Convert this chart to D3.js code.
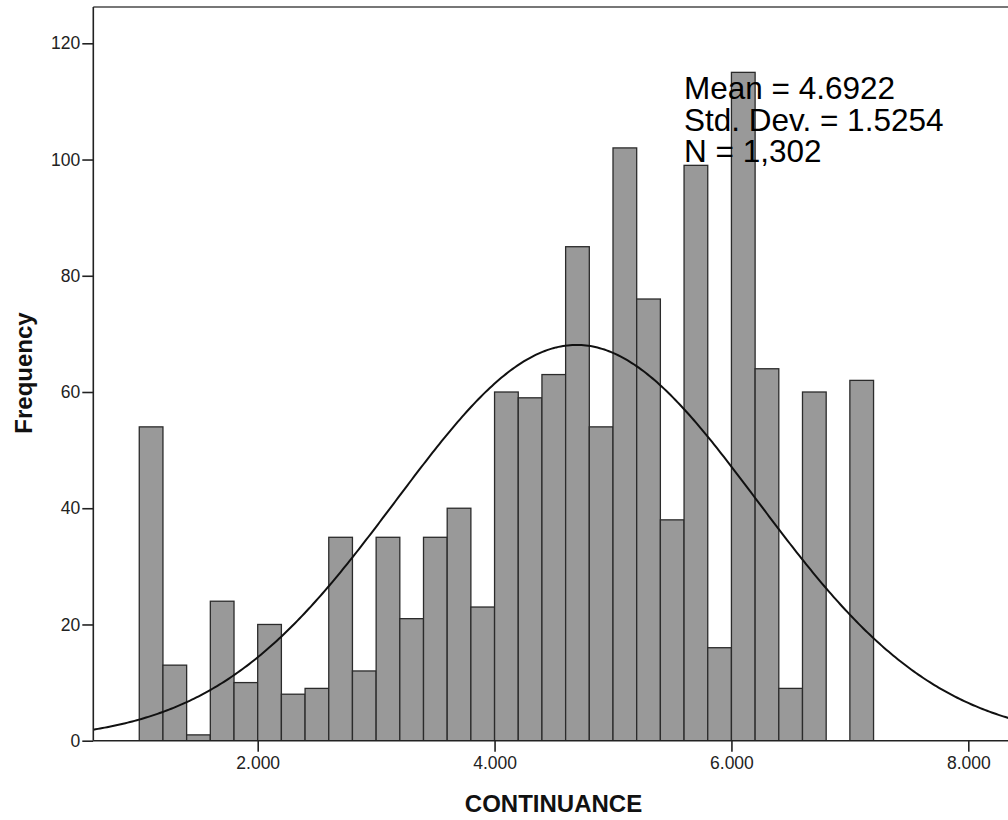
<!DOCTYPE html>
<html>
<head>
<meta charset="utf-8">
<script src="https://cdn.jsdelivr.net/npm/d3@7"></script>
<style>
  html, body { margin: 0; padding: 0; background: #fff; }
  svg { display: block; font-family: "Liberation Sans", Arial, sans-serif; }
</style>
</head>
<body>
<svg id="chart" width="1008" height="820"></svg>
<script>
// Histogram of CONTINUANCE, bins of width 0.2 starting at 1.0
const binStarts = [1.0, 1.2, 1.4, 1.6, 1.8, 2.0, 2.2, 2.4, 2.6, 2.8,
                   3.0, 3.2, 3.4, 3.6, 3.8, 4.0, 4.2, 4.4, 4.6, 4.8,
                   5.0, 5.2, 5.4, 5.6, 5.8, 6.0, 6.2, 6.4, 6.6, 6.8, 7.0];
const frequencies = [54, 13, 1, 24, 10, 20, 8, 9, 35, 12,
                     35, 21, 35, 40, 23, 60, 59, 63, 85, 54,
                     102, 76, 38, 99, 16, 115, 64, 9, 60, 0, 62];
const binWidth = 0.2;
const xTicks = [2, 4, 6, 8];
const yTicks = [0, 20, 40, 60, 80, 100, 120];
const statMean = 4.6922;
const statSD = 1.5254;
const statN = 1302;
const statLines = ["Mean = 4.6922", "Std. Dev. = 1.5254", "N = 1,302"];

(function () {
  const svg = d3.select("#chart");

  // Plot box
  const boxL = 93.3, boxR = 1010, boxT = 7, boxB = 740.7;

  const x = d3.scaleLinear().domain([2, 8]).range([257.7, 968.3]);
  const y = d3.scaleLinear().domain([0, 120]).range([boxB, 43.3]);

  svg.append("defs").append("clipPath").attr("id", "plotClip")
    .append("rect").attr("x", boxL).attr("y", boxT)
    .attr("width", boxR - boxL).attr("height", boxB - boxT);

  const plot = svg.append("g").attr("clip-path", "url(#plotClip)");

  // Bars
  plot.selectAll("rect.bar")
    .data(binStarts.map((s, i) => ({ s, f: frequencies[i] })).filter(d => d.f > 0))
    .join("rect")
    .attr("class", "bar")
    .attr("x", d => x(d.s))
    .attr("width", d => x(d.s + binWidth) - x(d.s))
    .attr("y", d => y(d.f))
    .attr("height", d => y(0) - y(d.f))
    .attr("fill", "#999999")
    .attr("stroke", "#2b2b2b")
    .attr("stroke-width", 1.3);

  // Normal curve scaled to counts
  const scaleFactor = statN * binWidth / (statSD * Math.sqrt(2 * Math.PI));
  const v0 = x.invert(boxL), v1 = x.invert(boxR);
  const curvePts = d3.range(0, 401).map(i => {
    const v = v0 + (v1 - v0) * i / 400;
    const z = (v - statMean) / statSD;
    return [v, scaleFactor * Math.exp(-0.5 * z * z)];
  });
  plot.append("path")
    .datum(curvePts)
    .attr("fill", "none")
    .attr("stroke", "#111")
    .attr("stroke-width", 2)
    .attr("d", d3.line().x(d => x(d[0])).y(d => y(d[1])));

  // Frame: top line
  svg.append("line")
    .attr("x1", boxL).attr("x2", boxR).attr("y1", boxT).attr("y2", boxT)
    .attr("stroke", "#777").attr("stroke-width", 2.2);

  // Y axis
  const yAxis = d3.axisLeft(y).tickValues(yTicks).tickSize(11).tickPadding(2)
    .tickFormat(d3.format("d"));
  const gy = svg.append("g").attr("transform", `translate(${boxL},0)`).call(yAxis);
  gy.select(".domain").remove();
  gy.selectAll(".tick line").attr("stroke", "#222").attr("stroke-width", 1.6);
  gy.selectAll(".tick text").attr("font-size", "17.5px").attr("fill", "#222")
    .attr("font-family", "Liberation Sans, Arial, sans-serif");
  svg.append("line")
    .attr("x1", boxL).attr("x2", boxL).attr("y1", boxT).attr("y2", boxB)
    .attr("stroke", "#222").attr("stroke-width", 1.6);

  // X axis
  const xAxis = d3.axisBottom(x).tickValues(xTicks).tickSize(11).tickPadding(5)
    .tickFormat(d3.format(".3f"));
  const gx = svg.append("g").attr("transform", `translate(0,${boxB})`).call(xAxis);
  gx.select(".domain").remove();
  gx.selectAll(".tick line").attr("stroke", "#222").attr("stroke-width", 1.6);
  gx.selectAll(".tick text").attr("font-size", "17.5px").attr("fill", "#222")
    .attr("font-family", "Liberation Sans, Arial, sans-serif");
  svg.append("line")
    .attr("x1", boxL).attr("x2", boxR).attr("y1", boxB).attr("y2", boxB)
    .attr("stroke", "#222").attr("stroke-width", 1.6);

  // Axis titles
  svg.append("text")
    .attr("x", 553.5).attr("y", 811.5)
    .attr("text-anchor", "middle")
    .attr("font-size", "24px").attr("font-weight", "bold").attr("fill", "#111")
    .text("CONTINUANCE");

  svg.append("text")
    .attr("transform", "translate(32,373) rotate(-90)")
    .attr("text-anchor", "middle")
    .attr("font-size", "24px").attr("font-weight", "bold").attr("fill", "#111")
    .text("Frequency");

  // Summary statistics
  svg.append("g").selectAll("text")
    .data(statLines)
    .join("text")
    .attr("x", 684)
    .attr("y", (d, i) => 99 + i * 31.7)
    .attr("font-size", "31.5px").attr("fill", "#000")
    .text(d => d);
})();
</script>
</body>
</html>
